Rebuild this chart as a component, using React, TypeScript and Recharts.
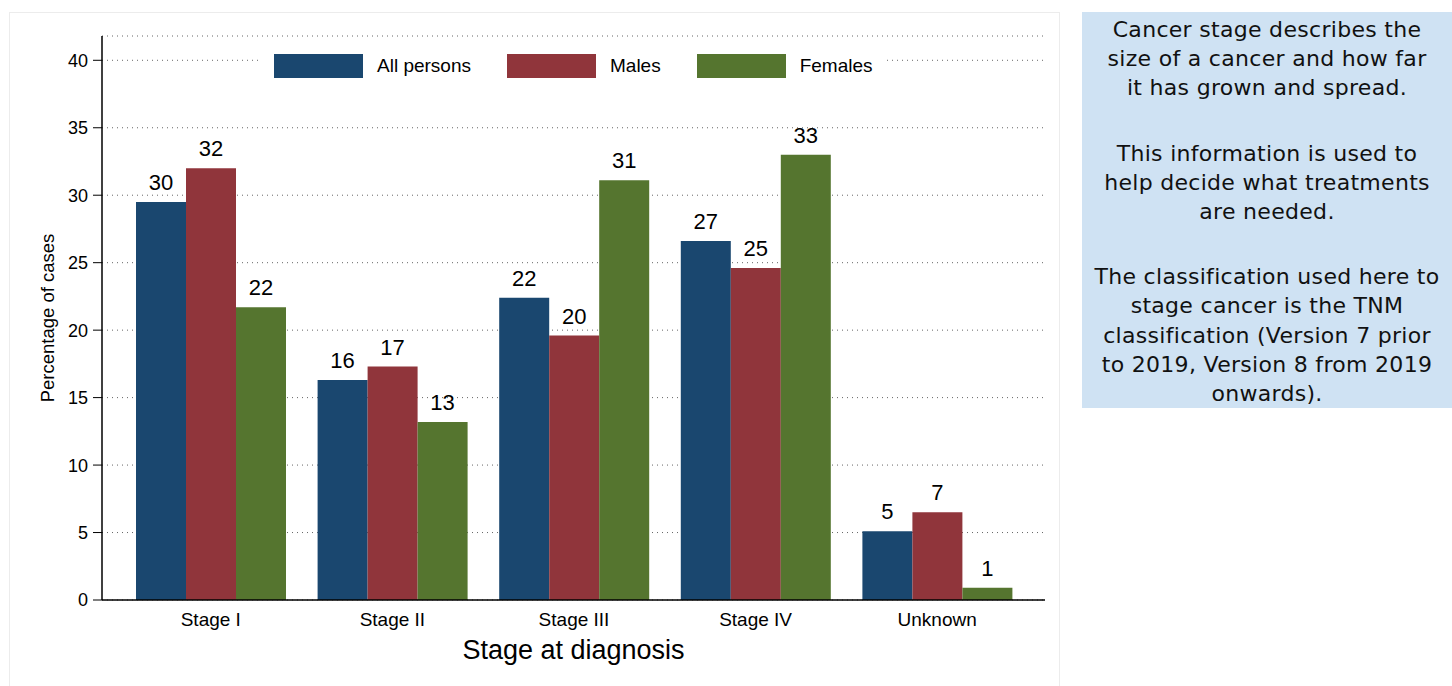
import React from 'react';
import { BarChart, Bar, XAxis, YAxis, CartesianGrid, LabelList } from 'recharts';

const stages = ['Stage I', 'Stage II', 'Stage III', 'Stage IV', 'Unknown'];
const allPersons = [29.5, 16.3, 22.4, 26.6, 5.1];
const males = [32.0, 17.3, 19.6, 24.6, 6.5];
const females = [21.7, 13.2, 31.1, 33.0, 0.9];
const yTicks = [0, 5, 10, 15, 20, 25, 30, 35, 40];

const series = [
  { key: 'all', name: 'All persons', color: '#1a476f' },
  { key: 'males', name: 'Males', color: '#90353b' },
  { key: 'females', name: 'Females', color: '#55752f' },
];

const data = stages.map((stage, i) => ({
  stage,
  all: allPersons[i],
  males: males[i],
  females: females[i],
}));

const FONT = '"Liberation Sans", Arial, sans-serif';

// legend drawn as an overlay so it doesn't push the plot down
const LegendBox = () => (
  <div
    style={{
      position: 'absolute',
      left: 262,
      top: 43,
      display: 'flex',
      alignItems: 'center',
      background: '#fff',
      padding: '11px 14px 11px 12px',
      fontFamily: FONT,
      fontSize: 19,
      color: '#000',
    }}
  >
    {series.map((s, i) => (
      <div key={s.key} style={{ display: 'flex', alignItems: 'center', marginLeft: i === 0 ? 0 : 36 }}>
        <div style={{ width: 89, height: 24, background: s.color }} />
        <span style={{ marginLeft: 14 }}>{s.name}</span>
      </div>
    ))}
  </div>
);

const YLabel = (props: any) => {
  const { viewBox } = props;
  const cx = 47;
  const cy = viewBox.y + viewBox.height / 2;
  return (
    <text
      x={cx}
      y={cy}
      transform={`rotate(-90 ${cx} ${cy})`}
      textAnchor="middle"
      dominantBaseline="central"
      fontFamily={FONT}
      fontSize={18.5}
      fill="#000"
    >
      Percentage of cases
    </text>
  );
};

const XTick = (props: any) => {
  const { x, y, payload } = props;
  return (
    <text x={x} y={y} dy="0.72em" textAnchor="middle" fontFamily={FONT} fontSize={19} fill="#000">
      {payload.value}
    </text>
  );
};

const YTick = (props: any) => {
  const { x, y, payload } = props;
  return (
    <text x={x} y={y} dy="0.36em" textAnchor="end" fontFamily={FONT} fontSize={18} fill="#000">
      {payload.value}
    </text>
  );
};

const round = (v: any) => Math.round(Number(v));

export default function App() {
  return (
    <div style={{ position: 'absolute', left: 0, top: 0, width: 1452, height: 686, background: '#fff' }}>
      <div
        style={{
          position: 'absolute',
          left: 9,
          top: 12,
          width: 1051,
          height: 674,
          border: '1px solid #ececec',
          borderBottom: 'none',
          boxSizing: 'border-box',
        }}
      />
      <div style={{ position: 'absolute', left: 0, top: 0 }}>
        <BarChart
          width={1060}
          height={686}
          data={data}
          margin={{ top: 36, right: 15, left: 0, bottom: 26 }}
          barCategoryGap={16}
          barGap={0}
        >
          <CartesianGrid vertical={false} stroke="#666" strokeDasharray="1 4" />
          <XAxis
            dataKey="stage"
            height={60}
            padding={{ left: 18, right: 17 }}
            tickLine={false}
            tickSize={0}
            tickMargin={12}
            axisLine={{ stroke: '#000', strokeWidth: 1.5 }}
            tick={<XTick />}
            label={{
              value: 'Stage at diagnosis',
              position: 'insideBottom',
              offset: 1,
              fontSize: 27,
              fill: '#000',
              fontFamily: FONT,
            }}
          />
          <YAxis
            width={102}
            domain={[0, 41.8]}
            ticks={yTicks}
            tickSize={9}
            tickMargin={5}
            tickLine={{ stroke: '#000' }}
            axisLine={{ stroke: '#000', strokeWidth: 1.5 }}
            tick={<YTick />}
            label={<YLabel />}
          />
          {series.map((s) => (
            <Bar key={s.key} dataKey={s.key} name={s.name} fill={s.color} isAnimationActive={false}>
              <LabelList
                dataKey={s.key}
                position="top"
                offset={12}
                formatter={round}
                style={{ fontSize: 22, fill: '#000', fontFamily: FONT }}
              />
            </Bar>
          ))}
        </BarChart>
      </div>
      <LegendBox />
      <div
        style={{
          position: 'absolute',
          left: 1082,
          top: 12,
          width: 370,
          height: 396,
          background: '#cfe2f3',
          textAlign: 'center',
          fontFamily: '"DejaVu Sans", sans-serif',
          fontSize: 22,
          letterSpacing: 0.3,
          lineHeight: '29.2px',
          color: '#111',
          paddingTop: 3,
          boxSizing: 'border-box',
          whiteSpace: 'nowrap',
        }}
      >
        <div>
          Cancer stage describes the
          <br />
          size of a cancer and how far
          <br />
          it has grown and spread.
        </div>
        <div style={{ marginTop: 36 }}>
          This information is used to
          <br />
          help decide what treatments
          <br />
          are needed.
        </div>
        <div style={{ marginTop: 36 }}>
          The classification used here to
          <br />
          stage cancer is the TNM
          <br />
          classification (Version 7 prior
          <br />
          to 2019, Version 8 from 2019
          <br />
          onwards).
        </div>
      </div>
    </div>
  );
}
